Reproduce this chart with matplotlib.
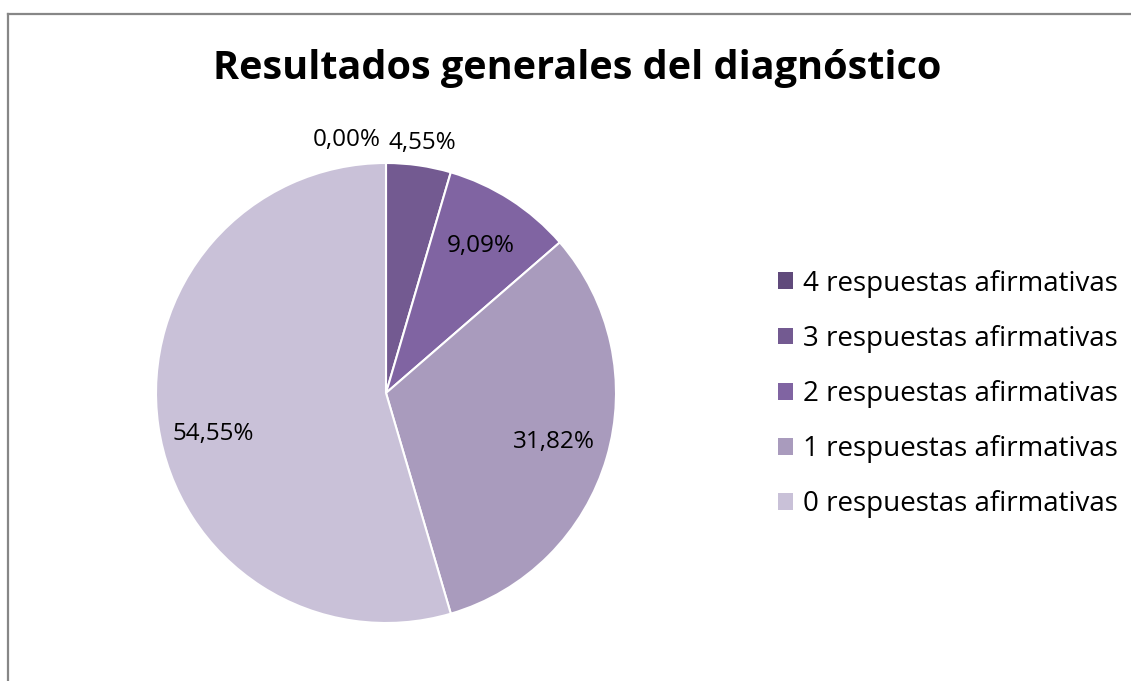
import numpy as np
import matplotlib
matplotlib.use("Agg")
import matplotlib.pyplot as plt
from matplotlib.lines import Line2D
from matplotlib.patches import Patch

# data (counts out of 22 responses)
labels = ['4 respuestas afirmativas', '3 respuestas afirmativas', '2 respuestas afirmativas',
          '1 respuestas afirmativas', '0 respuestas afirmativas']
counts = [0, 1, 2, 7, 12]
colors = ['#604a7b', '#735a91', '#8064a2', '#a99bbd', '#c9c1d8']
title = 'Resultados generales del diagnóstico'

plt.rcParams['font.family'] = ['Open Sans', 'DejaVu Sans']

W, H = 1131, 681
fig = plt.figure(figsize=(W / 100, H / 100), dpi=100)

# pie axes: centre (386, 393) px, radius 230 px
cx, cy, r = 386, 393, 230
ax = fig.add_axes([(cx - r) / W, (H - cy - r) / H, 2 * r / W, 2 * r / H])
wedges, _ = ax.pie(counts, colors=colors, startangle=90, counterclock=False,
                   wedgeprops=dict(edgecolor='white', linewidth=1.5), radius=1)
ax.set_xlim(-1, 1)
ax.set_ylim(-1, 1)
ax.set_aspect('equal')
ax.axis('off')

total = sum(counts)
pct = [100 * c / total for c in counts]
for i, w in enumerate(wedges):
    ang = np.deg2rad((w.theta1 + w.theta2) / 2)
    txt = f'{pct[i]:.2f}%'.replace('.', ',')
    if pct[i] < 5:
        d = 1.1
        x, y = d * np.cos(ang), d * np.sin(ang)
        if pct[i] == 0:
            x -= 0.17
        ax.text(x, y, txt, ha='center', va='center', fontsize=17.5, clip_on=False)
    else:
        d = 0.76
        x, y = d * np.cos(ang), d * np.sin(ang)
        if pct[i] > 50:
            y -= 0.07
        ax.text(x, y, txt, ha='center', va='center', fontsize=17.5)

fig.text(577 / W, 1 - 68 / H, title, ha='center', va='center', fontsize=28.5, fontweight='bold')

handles = [Patch(facecolor=c, edgecolor='none') for c in colors]
fig.legend(handles, labels, loc='center left', bbox_to_anchor=(778 / W, 1 - 394 / H),
           frameon=False, fontsize=20, handlelength=0.55, handleheight=0.55,
           handletextpad=0.36, labelspacing=0.98, borderaxespad=0, borderpad=0)

# chart frame (only left and top edges visible)
fig.add_artist(Line2D([7.5 / W, 7.5 / W], [0, 1 - 14 / H], color='#878787', lw=1.6))
fig.add_artist(Line2D([7.5 / W, 1], [1 - 14 / H, 1 - 14 / H], color='#878787', lw=1.6))

fig.savefig('out.png', dpi=100)
